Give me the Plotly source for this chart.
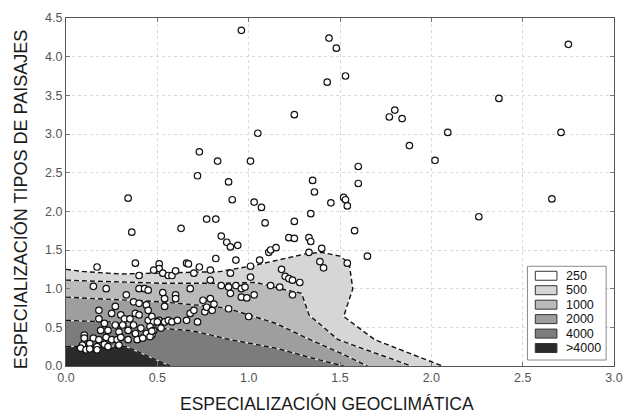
import plotly.graph_objects as go

# ---------------- data ----------------
pts_x = [0.96,1.44,1.48,1.53,1.43,1.25,1.05,0.73,0.83,1.01,0.72,0.89,1.35,1.36,0.34,0.91,1.03,1.07,1.45,1.52,1.53,1.54,1.34,0.36,0.63,0.77,0.82,1.09,1.25,0.85,0.88,0.90,0.94,1.22,1.25,1.33,1.34,1.40,1.58,
         2.75,2.37,1.80,1.77,1.84,2.09,2.71,1.88,2.02,1.60,1.60,2.66,2.26,
         1.11,1.12,1.15,1.33,1.65,1.54,1.39,1.41,0.17,0.38,0.51,0.51,0.53,0.56,0.58,0.60,0.48,0.40,0.66,0.67,0.70,0.73,0.79,0.79,0.82,0.90,0.93,1.01,1.01,1.06,1.18,1.20,1.22,1.24,1.28,
         0.15,0.22,0.40,0.43,0.45,0.53,0.54,0.60,0.60,0.68,0.75,0.79,0.85,0.89,0.93,0.96,0.98,0.90,0.96,0.99,1.03,1.12,1.17,1.24,0.33,0.37,0.40,0.44,0.45,0.54,0.89,1.00,0.18,
         0.25,0.27,0.30,0.32,0.35,0.38,0.40,0.45,0.47,0.48,0.51,0.54,0.56,0.18,0.21,0.19,0.23,0.27,0.29,0.31,0.34,0.37,0.38,0.41,0.44,0.46,0.48,0.51,0.10,0.10,0.15,0.18,0.22,0.25,0.28,0.30,0.34,0.39,0.42,0.47,0.09,0.13,0.17,0.21,0.23,0.29,0.08,0.11,0.13,0.17,0.58,0.61,0.66,0.68,0.70,0.72,0.76,0.77,0.80,0.81,0.50,0.52,0.46,0.47]
pts_y = [4.34,4.24,4.11,3.75,3.67,3.25,3.01,2.77,2.65,2.65,2.46,2.38,2.40,2.25,2.17,2.15,2.12,2.05,2.11,2.18,2.15,2.07,1.97,1.73,1.78,1.90,1.90,1.85,1.87,1.68,1.60,1.54,1.56,1.66,1.65,1.66,1.61,1.52,1.75,
         4.16,3.46,3.31,3.22,3.20,3.02,3.02,2.85,2.66,2.58,2.36,2.16,1.93,
         1.47,1.50,1.53,1.47,1.42,1.33,1.35,1.27,1.28,1.33,1.32,1.26,1.20,1.17,1.17,1.23,1.24,1.17,1.33,1.32,1.20,1.28,1.24,1.11,1.39,1.20,1.37,1.29,1.15,1.37,1.25,1.16,1.13,1.11,1.08,
         1.03,1.00,1.00,1.00,0.98,0.95,0.87,0.92,0.87,1.00,0.85,0.87,1.04,1.02,1.04,1.00,1.02,0.94,0.89,0.88,0.92,1.04,1.02,0.92,0.92,0.83,0.81,0.79,0.72,0.77,0.74,0.64,0.72,
         0.68,0.77,0.66,0.61,0.61,0.68,0.66,0.59,0.64,0.57,0.59,0.57,0.59,0.61,0.55,0.46,0.46,0.53,0.44,0.53,0.46,0.53,0.42,0.49,0.42,0.51,0.46,0.51,0.40,0.36,0.36,0.34,0.37,0.34,0.34,0.37,0.34,0.34,0.36,0.40,0.27,0.29,0.25,0.28,0.25,0.27,0.23,0.21,0.22,0.21,0.57,0.59,0.59,0.68,0.72,0.57,0.70,0.76,0.72,0.80,0.57,0.49,0.38,0.45]

level_labels = ["250", "500", "1000", "2000", "4000", ">4000"]
level_colors = ["#ffffff", "#d6d6d6", "#bababa", "#9e9e9e", "#7c7c7c", "#2a2a2a"]

# contour boundaries (outer -> inner)
b500_x = [0, 0.10, 0.30, 0.52, 0.70, 0.84, 1.03, 1.20, 1.31, 1.40, 1.50, 1.55, 1.57, 1.52, 1.69, 2.06]
b500_y = [1.25, 1.22, 1.19, 1.20, 1.21, 1.22, 1.30, 1.39, 1.45, 1.47, 1.42, 1.33, 1.00, 0.64, 0.34, 0.0]
b1000_x = [0, 0.25, 0.52, 0.86, 1.04, 1.21, 1.29, 1.33, 1.49, 1.89]
b1000_y = [1.11, 1.09, 1.07, 1.07, 1.08, 0.98, 0.94, 0.66, 0.34, 0.0]
b2000_x = [0, 0.25, 0.52, 0.75, 0.88, 1.00, 1.15, 1.30, 1.50, 1.65]
b2000_y = [0.89, 0.86, 0.83, 0.78, 0.75, 0.66, 0.55, 0.38, 0.17, 0.0]
b4000_x = [0, 0.24, 0.45, 0.67, 0.72, 0.90, 1.15, 1.35, 1.52]
b4000_y = [0.59, 0.57, 0.50, 0.46, 0.44, 0.34, 0.23, 0.10, 0.0]
bmax_x = [0, 0.20, 0.33, 0.42, 0.50, 0.57]
bmax_y = [0.25, 0.26, 0.25, 0.16, 0.08, 0.0]

boundaries = [(b500_x, b500_y), (b1000_x, b1000_y), (b2000_x, b2000_y),
              (b4000_x, b4000_y), (bmax_x, bmax_y)]

x_ticks = [0.0, 0.5, 1.0, 1.5, 2.0, 2.5, 3.0]
y_ticks = [0.0, 0.5, 1.0, 1.5, 2.0, 2.5, 3.0, 3.5, 4.0, 4.5]

# ---------------- figure ----------------
W, H = 634, 415
L, R, T, B = 66, 11, 17, 49
pw, ph = W - L - R, H - T - B

def px(x):
    return (x - L) / pw

def py(y):
    return (H - B - y) / ph

fig = go.Figure()

# filled bands
for i, (bx, by) in enumerate(boundaries):
    fig.add_trace(go.Scatter(
        x=list(bx) + [0], y=list(by) + [0], mode="lines", fill="toself",
        fillcolor=level_colors[i + 1], line=dict(width=0), hoverinfo="skip",
        showlegend=False))

# boundary lines
for bx, by in boundaries:
    fig.add_trace(go.Scatter(x=bx, y=by, mode="lines",
                             line=dict(color="rgba(255,255,255,0.75)", width=1.3),
                             hoverinfo="skip", showlegend=False))
    fig.add_trace(go.Scatter(x=bx, y=by, mode="lines",
                             line=dict(color="#111111", width=1.4, dash="5px,3px"),
                             hoverinfo="skip", showlegend=False))

# scatter points
fig.add_trace(go.Scatter(x=pts_x, y=pts_y, mode="markers",
                         marker=dict(symbol="circle", size=6.5, color="white",
                                     line=dict(color="#111111", width=1.2)),
                         showlegend=False))

axis_common = dict(showline=True, linecolor="#555555", linewidth=1, mirror="ticks",
                   ticks="inside", ticklen=4, tickcolor="#777777",
                   showgrid=True, gridcolor="#d9d9d9", griddash="dot", gridwidth=1,
                   zeroline=False, tickfont=dict(family="Liberation Sans, Arial", size=12.5, color="#555555"))

fig.update_xaxes(range=[0, 3.0], tickvals=x_ticks, ticktext=[f"{v:.1f}" for v in x_ticks], **axis_common)
fig.update_yaxes(range=[0, 4.5], tickvals=y_ticks, ticktext=[f"{v:.1f}" for v in y_ticks], **axis_common)

shapes = []
annotations = []

# axis titles
annotations.append(dict(text="ESPECIALIZACIÓN GEOCLIMÁTICA", xref="paper", yref="paper",
                        x=px(331), y=py(404), showarrow=False, xanchor="center", yanchor="middle",
                        font=dict(family="Liberation Sans, Arial", size=17.5, color="#1a1a1a")))
annotations.append(dict(text="ESPECIALIZACIÓN TIPOS DE PAISAJES", xref="paper", yref="paper",
                        x=px(20), y=py(199), showarrow=False, textangle=-90,
                        xanchor="center", yanchor="middle",
                        font=dict(family="Liberation Sans, Arial", size=18, color="#1a1a1a")))

# custom legend
shapes.append(dict(type="rect", xref="paper", yref="paper",
                   x0=px(535), x1=px(615), y0=py(360), y1=py(266),
                   line=dict(color="#8a8a8a", width=1), fillcolor="white", layer="above"))
row0, gap = 275.5, 14.5
for i, (lab, col) in enumerate(zip(level_labels, level_colors)):
    yc = row0 + i * gap
    shapes.append(dict(type="rect", xref="paper", yref="paper",
                       x0=px(543), x1=px(565), y0=py(yc + 4.5), y1=py(yc - 4.5),
                       line=dict(color="#333333", width=1), fillcolor=col, layer="above"))
    annotations.append(dict(text=lab, xref="paper", yref="paper", x=px(572), y=py(yc),
                            xanchor="left", yanchor="middle", showarrow=False,
                            font=dict(family="Liberation Sans, Arial", size=12.5, color="#111111")))

fig.update_layout(width=W, height=H, margin=dict(l=L, r=R, t=T, b=B),
                  paper_bgcolor="white", plot_bgcolor="white",
                  shapes=shapes, annotations=annotations, showlegend=False,
                  font=dict(family="Liberation Sans, Arial"))

fig.write_html("out.html")
